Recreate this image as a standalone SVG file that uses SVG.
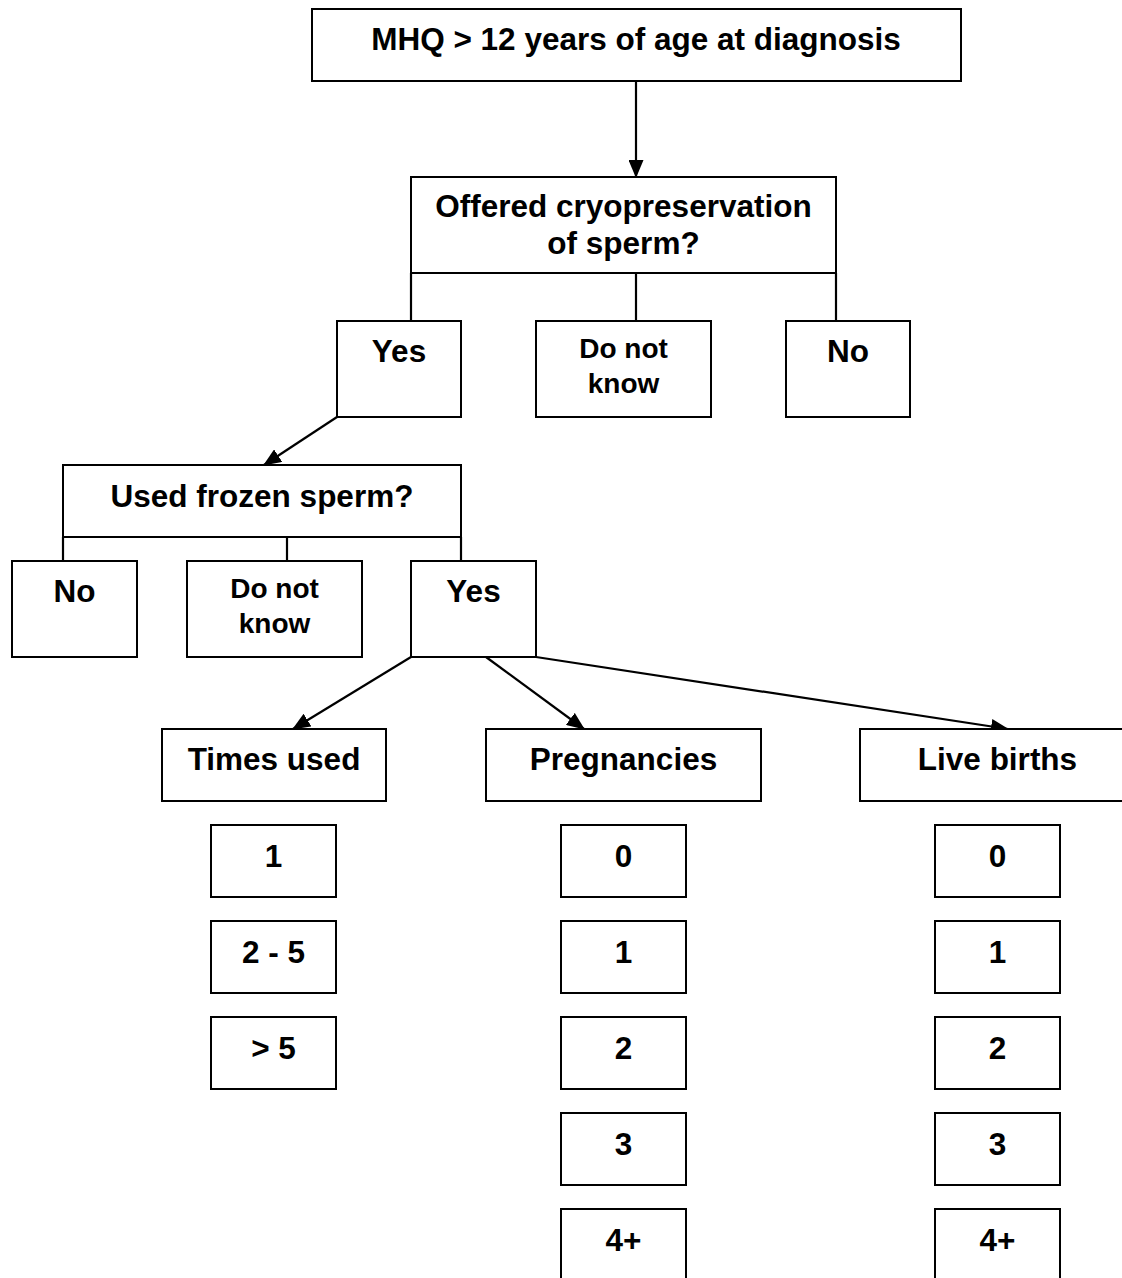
<svg xmlns="http://www.w3.org/2000/svg" width="1122" height="1278" viewBox="0 0 1122 1278">
<defs>
<style>
rect{fill:#fff;stroke:#000;stroke-width:2}
text{font-family:"Liberation Sans",Arial,sans-serif;font-weight:bold;font-size:31.5px;fill:#000;text-anchor:middle}
text.s{font-size:28px}
.c line{stroke:#000;stroke-width:2.2}
.c line.a{marker-end:url(#ah)}
</style>
<marker id="ah" markerUnits="userSpaceOnUse" markerWidth="18" markerHeight="15" refX="17" refY="7.5" orient="auto" viewBox="0 0 18 15">
<path d="M0,0 L18,7.5 L0,15 z" fill="#000"/>
</marker>
</defs>
<rect width="1122" height="1278" style="stroke:none"/>
<g class="c" id="connectors">
<line class="a" x1="636" y1="81" x2="636" y2="177"/>
<line x1="411" y1="273" x2="411" y2="321"/>
<line x1="636" y1="273" x2="636" y2="321"/>
<line x1="836" y1="273" x2="836" y2="321"/>
<line class="a" x1="337" y1="417" x2="264" y2="465"/>
<line x1="63" y1="537" x2="63" y2="561"/>
<line x1="287" y1="537" x2="287" y2="561"/>
<line x1="461" y1="537" x2="461" y2="561"/>
<line class="a" x1="411" y1="657" x2="293" y2="729"/>
<line class="a" x1="486" y1="657" x2="584" y2="729"/>
<line class="a" x1="536" y1="657" x2="1008" y2="729"/>
</g>
<g id="n-mhq"><rect x="312" y="9" width="649" height="72"/><text x="636" y="50">MHQ &gt; 12 years of age at diagnosis</text></g>
<g id="n-offered"><rect x="411" y="177" width="425" height="96"/><text x="623.5" y="217">Offered cryopreservation</text><text x="623.5" y="254">of sperm?</text></g>
<g id="n-yes1"><rect x="337" y="321" width="124" height="96"/><text x="399" y="362">Yes</text></g>
<g id="n-dnk1"><rect x="536" y="321" width="175" height="96"/><text class="s" x="623.5" y="358">Do not</text><text class="s" x="623.5" y="393">know</text></g>
<g id="n-no1"><rect x="786" y="321" width="124" height="96"/><text x="848" y="362">No</text></g>
<g id="n-used"><rect x="63" y="465" width="398" height="72"/><text x="262" y="507">Used frozen sperm?</text></g>
<g id="n-no2"><rect x="12" y="561" width="125" height="96"/><text x="74.5" y="602">No</text></g>
<g id="n-dnk2"><rect x="187" y="561" width="175" height="96"/><text class="s" x="274.5" y="598">Do not</text><text class="s" x="274.5" y="633">know</text></g>
<g id="n-yes2"><rect x="411" y="561" width="125" height="96"/><text x="473.5" y="602">Yes</text></g>
<g id="n-times"><rect x="162" y="729" width="224" height="72"/><text x="274" y="770">Times used</text></g>
<g id="n-preg"><rect x="486" y="729" width="275" height="72"/><text x="623.5" y="770">Pregnancies</text></g>
<g id="n-live"><rect x="860" y="729" width="270" height="72"/><text x="997.5" y="770">Live births</text></g>
<g id="n-t1"><rect x="211" y="825" width="125" height="72"/><text x="273.5" y="867">1</text></g>
<g id="n-t2"><rect x="211" y="921" width="125" height="72"/><text x="273.5" y="963">2 - 5</text></g>
<g id="n-t3"><rect x="211" y="1017" width="125" height="72"/><text x="273.5" y="1059">&gt; 5</text></g>
<g id="n-p0"><rect x="561" y="825" width="125" height="72"/><text x="623.5" y="867">0</text></g>
<g id="n-p1"><rect x="561" y="921" width="125" height="72"/><text x="623.5" y="963">1</text></g>
<g id="n-p2"><rect x="561" y="1017" width="125" height="72"/><text x="623.5" y="1059">2</text></g>
<g id="n-p3"><rect x="561" y="1113" width="125" height="72"/><text x="623.5" y="1155">3</text></g>
<g id="n-p4"><rect x="561" y="1209" width="125" height="72"/><text x="623.5" y="1251">4+</text></g>
<g id="n-l0"><rect x="935" y="825" width="125" height="72"/><text x="997.5" y="867">0</text></g>
<g id="n-l1"><rect x="935" y="921" width="125" height="72"/><text x="997.5" y="963">1</text></g>
<g id="n-l2"><rect x="935" y="1017" width="125" height="72"/><text x="997.5" y="1059">2</text></g>
<g id="n-l3"><rect x="935" y="1113" width="125" height="72"/><text x="997.5" y="1155">3</text></g>
<g id="n-l4"><rect x="935" y="1209" width="125" height="72"/><text x="997.5" y="1251">4+</text></g>
</svg>
